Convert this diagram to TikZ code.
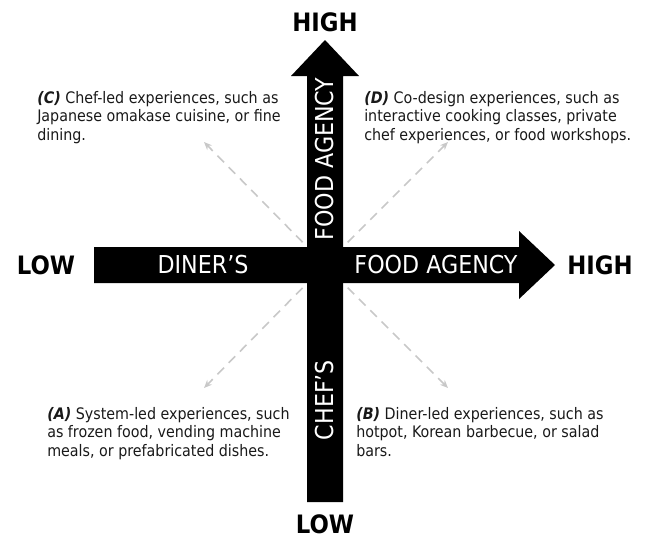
\documentclass[tikz,border=0pt]{standalone}
\usepackage{fontspec}
\setmainfont{DejaVu Sans Condensed}
\usetikzlibrary{arrows.meta}
\definecolor{guidegray}{RGB}{200,200,200}

\tikzset{
  endlbl/.style={font=\bfseries\fontsize{19}{22}\selectfont},
  barlbl/.style={text=white,font=\fontsize{18.5}{20}\selectfont},
  quad/.style={align=left,anchor=north west,inner sep=0pt,text=black!90,
    font=\fontsize{11.9}{14}\selectfont},
  guide/.style={draw=guidegray,line width=1.2pt,dash pattern=on 7pt off 5pt,
    -{Stealth[length=6pt,width=5pt]}}
}

\begin{document}
\begin{tikzpicture}[x=0.75pt,y=-0.75pt]
\def\cx{325}  % crossing point
\def\cy{265}
\def\w{18}    % half shaft width
\def\hw{34}   % half head width
\def\hl{36}   % head length
\useasboundingbox (0,0) rectangle (650,540);

% dashed guides run under the bars
\coordinate (O) at (\cx,\cy);
\coordinate (tipC) at (204,142);
\coordinate (tipD) at (448,142);
\coordinate (tipA) at (204,388);
\coordinate (tipB) at (448,388);
\foreach \t in {tipA,tipB,tipC,tipD}
  \draw[guide] (O) -- (\t);

% horizontal bar, diner's agency
\fill[black] (94,\cy-\w) -- (555-\hl,\cy-\w) -- (555-\hl,\cy-\hw)
 -- (555,\cy) -- (555-\hl,\cy+\hw) -- (555-\hl,\cy+\w) -- (94,\cy+\w) -- cycle;
% vertical bar, chef's agency
\fill[black] (\cx-\w,502) -- (\cx-\w,40+\hl) -- (\cx-\hw,40+\hl)
 -- (\cx,40) -- (\cx+\hw,40+\hl) -- (\cx+\w,40+\hl) -- (\cx+\w,502) -- cycle;

% bar texts
\node[barlbl] (diner) at (203,\cy) {DINER’S};
\node[barlbl] (hfood) at (436,\cy) {FOOD AGENCY};
\node[barlbl,rotate=90] (vfood) at (\cx,159) {FOOD AGENCY};
\node[barlbl,rotate=90] (chef) at (\cx,400) {CHEF’S};

% ends of the axes
\node[endlbl] (ytop) at (\cx,22) {HIGH};
\node[endlbl,inner sep=1pt] (ybot) at (\cx,524) {LOW};
\node[endlbl] (xlft) at (46,\cy) {LOW};
\node[endlbl] (xrgt) at (600,\cy) {HIGH};

% the four quadrants
\node[quad] (qC) at (37,91) {\textbf{\textit{(C)}} Chef-led experiences, such as\\
 Japanese omakase cuisine, or fine\\ dining.};
\node[quad] (qD) at (364,91) {\textbf{\textit{(D)}} Co-design experiences, such as\\
 interactive cooking classes, private\\ chef experiences, or food workshops.};
\node[quad] (qA) at (47,407) {\textbf{\textit{(A)}} System-led experiences, such\\
 as frozen food, vending machine\\ meals, or prefabricated dishes.};
\node[quad] (qB) at (356,407) {\textbf{\textit{(B)}} Diner-led experiences, such as\\
 hotpot, Korean barbecue, or salad\\ bars.};
\end{tikzpicture}
\end{document}
